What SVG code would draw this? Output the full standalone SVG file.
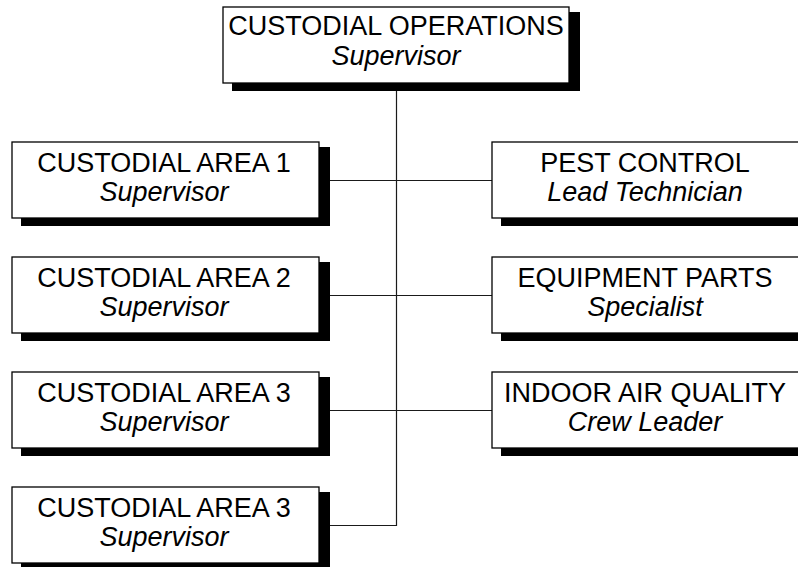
<svg xmlns="http://www.w3.org/2000/svg" width="798" height="567" viewBox="0 0 798 567">
  <defs>
    <style>
      .box { fill: #fff; stroke: #000; stroke-width: 1.3; }
      .shadow { fill: #000; }
      .wire { fill: none; stroke: #1a1a1a; stroke-width: 1.2; }
      text { font-family: "Liberation Sans", Arial, sans-serif; font-size: 27px; fill: #000; text-anchor: middle; }
      .role { font-style: italic; }
    </style>
  </defs>
  <rect width="798" height="567" fill="#fff"/>

  <!-- reporting lines -->
  <g id="connectors">
    <path class="wire" d="M396.5 83 V525.5 H319"/>
    <path class="wire" d="M319 180.5 H492"/>
    <path class="wire" d="M319 295.5 H492"/>
    <path class="wire" d="M319 410.5 H492"/>
  </g>

  <g id="custodial-operations">
    <rect class="shadow" x="232" y="12" width="348" height="79"/>
    <rect class="box" x="223" y="7" width="346" height="76"/>
    <text x="396" y="35">CUSTODIAL OPERATIONS</text>
    <text class="role" x="396" y="65">Supervisor</text>
  </g>

  <g id="custodial-area-1">
    <rect class="shadow" x="21" y="147" width="309" height="79"/>
    <rect class="box" x="12" y="142" width="307" height="76"/>
    <text x="164" y="172">CUSTODIAL AREA 1</text>
    <text class="role" x="164" y="201">Supervisor</text>
  </g>

  <g id="custodial-area-2">
    <rect class="shadow" x="21" y="262" width="309" height="79"/>
    <rect class="box" x="12" y="257" width="307" height="76"/>
    <text x="164" y="287">CUSTODIAL AREA 2</text>
    <text class="role" x="164" y="316">Supervisor</text>
  </g>

  <g id="custodial-area-3a">
    <rect class="shadow" x="21" y="377" width="309" height="79"/>
    <rect class="box" x="12" y="372" width="307" height="76"/>
    <text x="164" y="402">CUSTODIAL AREA 3</text>
    <text class="role" x="164" y="431">Supervisor</text>
  </g>

  <g id="custodial-area-3b">
    <rect class="shadow" x="21" y="492" width="309" height="79"/>
    <rect class="box" x="12" y="487" width="307" height="76"/>
    <text x="164" y="517">CUSTODIAL AREA 3</text>
    <text class="role" x="164" y="546">Supervisor</text>
  </g>

  <g id="pest-control">
    <rect class="shadow" x="501" y="147" width="309" height="79"/>
    <rect class="box" x="492" y="142" width="307" height="76"/>
    <text x="645" y="172">PEST CONTROL</text>
    <text class="role" x="645" y="201">Lead Technician</text>
  </g>

  <g id="equipment-parts">
    <rect class="shadow" x="501" y="262" width="309" height="79"/>
    <rect class="box" x="492" y="257" width="307" height="76"/>
    <text x="645" y="287">EQUIPMENT PARTS</text>
    <text class="role" x="645" y="316">Specialist</text>
  </g>

  <g id="indoor-air-quality">
    <rect class="shadow" x="501" y="377" width="309" height="79"/>
    <rect class="box" x="492" y="372" width="307" height="76"/>
    <text x="645" y="402">INDOOR AIR QUALITY</text>
    <text class="role" x="645" y="431">Crew Leader</text>
  </g>
</svg>
